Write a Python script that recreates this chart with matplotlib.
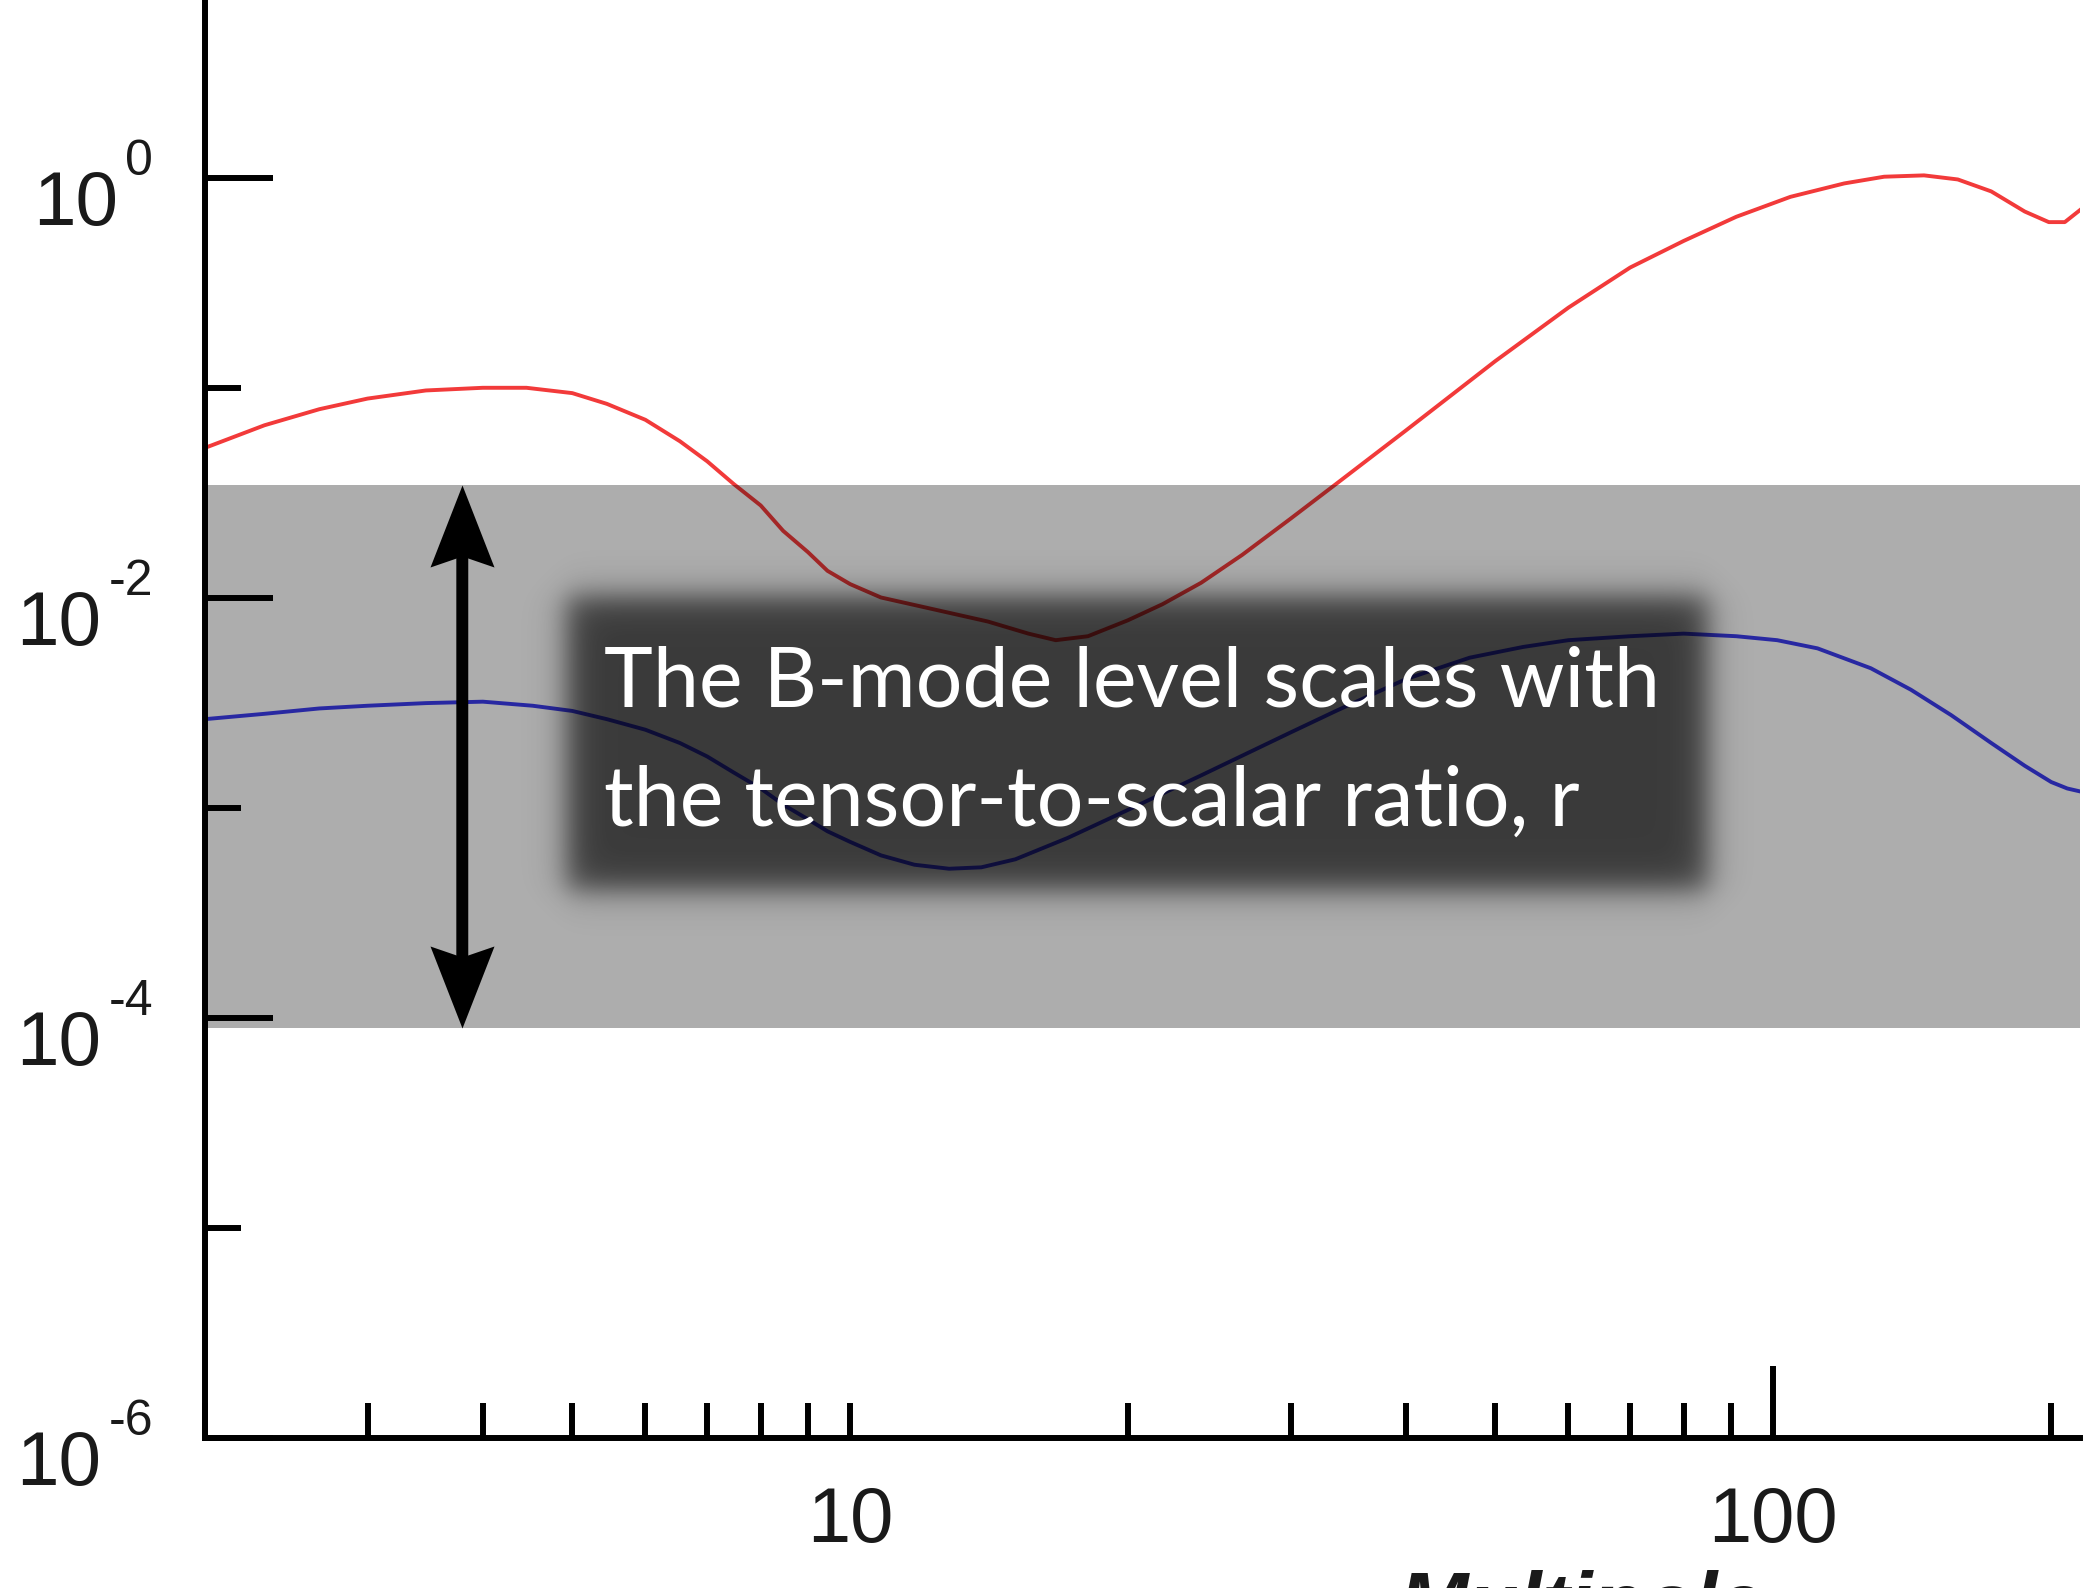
import numpy as np
import matplotlib.pyplot as plt
from matplotlib.path import Path
from matplotlib.ticker import FixedLocator, FuncFormatter, NullFormatter

plt.rcParams['font.family'] = ['Liberation Sans', 'DejaVu Sans']

# B-mode power spectra (multipole, power)
ell_lensing = [2.0, 2.32, 2.66, 3.0, 3.47, 4.0, 4.46, 5.0, 5.45, 6.0, 6.54, 7.0, 7.48, 8.0,
               8.46, 9.0, 9.45, 10.0, 10.8, 12.34, 14.1, 15.6, 16.7, 18.1, 20.0, 21.8,
               24.0, 26.6, 30.0, 33.6, 40.0, 50.0, 60.0, 70.0, 80.0, 91.2, 104.4, 119.4,
               131.9, 145.7, 158.5, 172.3, 187.3, 198.9, 207.0, 215.0]
cl_lensing = [0.0519, 0.0665, 0.0793, 0.0891, 0.0974, 0.1003, 0.1003, 0.0946, 0.0841,
              0.0706, 0.0558, 0.0448, 0.0349, 0.0276, 0.0209, 0.01655, 0.01348, 0.01165,
              0.01006, 0.00882, 0.00773, 0.00677, 0.0063, 0.00658, 0.00784, 0.00935,
              0.01182, 0.01607, 0.02387, 0.0349, 0.0628, 0.1344, 0.2415, 0.375, 0.502,
              0.654, 0.814, 0.943, 1.015, 1.03, 0.985, 0.864, 0.693, 0.617, 0.617, 0.704]

ell_tensor = [2.0, 2.32, 2.66, 3.0, 3.47, 4.0, 4.53, 5.0, 5.45, 6.0, 6.54, 7.0, 7.48, 8.0,
              8.46, 9.0, 9.45, 10.0, 10.8, 11.74, 12.8, 13.87, 15.1, 17.2, 20.0, 24.0,
              30.0, 33.6, 40.0, 46.9, 53.6, 60.0, 70.0, 80.0, 91.2, 101.0, 111.7, 127.6,
              141.0, 155.9, 172.3, 187.3, 200.1, 208.3, 215.0]
cl_tensor = [0.00265, 0.00281, 0.00298, 0.00307, 0.00316, 0.00321, 0.00307, 0.0029,
             0.00265, 0.00236, 0.00204, 0.00176, 0.001476, 0.001239, 0.001039, 0.000884,
             0.000775, 0.00069, 0.000595, 0.000537, 0.000514, 0.000522, 0.00057, 0.00072,
             0.00098, 0.00143, 0.00229, 0.0029, 0.00411, 0.0052, 0.00585, 0.0063,
             0.00658, 0.00677, 0.00658, 0.0063, 0.00576, 0.00463, 0.00366, 0.00277,
             0.00204, 0.00159, 0.00133, 0.001239, 0.0012]

# range of r covered by the shaded band
r_lo, r_hi = 9.0e-5, 3.45e-2
arrow_ell = 3.8

y_label_exps = [0, -2, -4, -6]
y_minor_exps = [-1, -3, -5]
x_minor = [2, 3, 4, 5, 6, 7, 8, 9, 10, 20, 30, 40, 50, 60, 70, 80, 90, 200]

W, H = 2096, 1588
PX = 72.0 / 100  # points per pixel

fig = plt.figure(figsize=(W / 100, H / 100), dpi=100)
ax = fig.add_axes([205 / W, 150 / H, 1875 / W, 1438 / H])
ax.set_xscale('log')
ax.set_yscale('log')
ax.set_xlim(2, 215)
ax.set_ylim(1e-6, 10 ** 0.848)

ax.plot(ell_lensing, cl_lensing, color='#f23a3a', lw=2.8, zorder=2, solid_joinstyle='round')
ax.plot(ell_tensor, cl_tensor, color='#3c3cf0', lw=2.8, zorder=2, solid_joinstyle='round')
ax.axhspan(r_lo, r_hi, color='black', alpha=0.32, lw=0, zorder=3)

# double headed arrow across the band
head_up = Path([(0, 0), (32, -82), (0, -71), (-32, -82), (0, 0)],
               [Path.MOVETO, Path.LINETO, Path.LINETO, Path.LINETO, Path.CLOSEPOLY])
head_dn = Path([(0, 0), (32, 82), (0, 71), (-32, 82), (0, 0)],
               [Path.MOVETO, Path.LINETO, Path.LINETO, Path.LINETO, Path.CLOSEPOLY])
ax.annotate('', xy=(arrow_ell, r_lo), xytext=(arrow_ell, r_hi),
            arrowprops=dict(arrowstyle='-', lw=8.6, color='black', shrinkA=50, shrinkB=50),
            zorder=4)
ax.plot([arrow_ell], [r_hi], marker=head_up, ms=164 * PX, color='black', mew=0, zorder=4)
ax.plot([arrow_ell], [r_lo], marker=head_dn, ms=164 * PX, color='black', mew=0, zorder=4)

for s in ['top', 'right']:
    ax.spines[s].set_visible(False)
for s in ['left', 'bottom']:
    ax.spines[s].set_linewidth(4.3)

# y ticks: every decade, labels every second one drawn by hand
ax.yaxis.set_major_locator(FixedLocator([10.0 ** e for e in y_label_exps]))
ax.yaxis.set_minor_locator(FixedLocator([10.0 ** e for e in y_minor_exps]))
ax.yaxis.set_major_formatter(NullFormatter())
ax.yaxis.set_minor_formatter(NullFormatter())
ax.tick_params(axis='y', which='major', direction='in', length=49, width=4.3)
ax.tick_params(axis='y', which='minor', direction='in', length=26, width=4.3)

for e in y_label_exps:
    sup = ax.annotate(str(e), xy=(0, 10.0 ** e), xycoords=('axes fraction', 'data'),
                      xytext=(-52 * PX, 3 * PX), textcoords='offset points',
                      ha='right', va='baseline', fontsize=36, color='#1a1a1a',
                      annotation_clip=False)
    ax.annotate('10', xy=(0, 0), xycoords=sup, xytext=(-5, -29),
                textcoords='offset points', ha='right', va='baseline',
                fontsize=55, color='#1a1a1a', annotation_clip=False)

# x ticks: short everywhere, long at 100
ax.xaxis.set_major_locator(FixedLocator([100]))
ax.xaxis.set_minor_locator(FixedLocator(x_minor))
ax.xaxis.set_major_formatter(FuncFormatter(lambda v, p: '%d' % v))
ax.xaxis.set_minor_formatter(FuncFormatter(lambda v, p: '10' if abs(v - 10) < 1e-6 else ''))
ax.tick_params(axis='x', which='major', direction='in', length=52, width=4.3,
               labelsize=56, pad=34, labelcolor='#1a1a1a')
ax.tick_params(axis='x', which='minor', direction='in', length=25, width=4.3,
               labelsize=56, pad=34, labelcolor='#1a1a1a')

fig.text(1581 / W, (H - 1631) / H, 'Multipole', fontsize=60, fontweight='bold',
         fontstyle='italic', ha='center', va='baseline', color='#1a1a1a')

# soft dark caption panel
x0, x1, y0, y1 = 500, 1780, 520, 970
xs = np.arange(x0, x1) + 0.5
ys = np.arange(y0, y1) + 0.5


def soft(v, a, b, s=9.0):
    return 1 / (1 + np.exp(-(v - a) / s)) / (1 + np.exp((v - b) / s))


mask = soft(ys, 596, 890)[:, None] * soft(xs, 567, 1708)[None, :]
panel = np.zeros((len(ys), len(xs), 4))
panel[..., 3] = 0.665 * mask
fig.figimage(panel, xo=x0, yo=H - y1, origin='upper', zorder=5)

cap = dict(fontsize=59.5, color='white', family=['Lato', 'DejaVu Sans'], zorder=10,
           ha='left', va='baseline')
fig.text(604 / W, (H - 706) / H, 'The B-mode level scales with', **cap)
fig.text(604 / W, (H - 826) / H, 'the tensor-to-scalar ratio, r', **cap)

fig.savefig('out.png', dpi=100)
